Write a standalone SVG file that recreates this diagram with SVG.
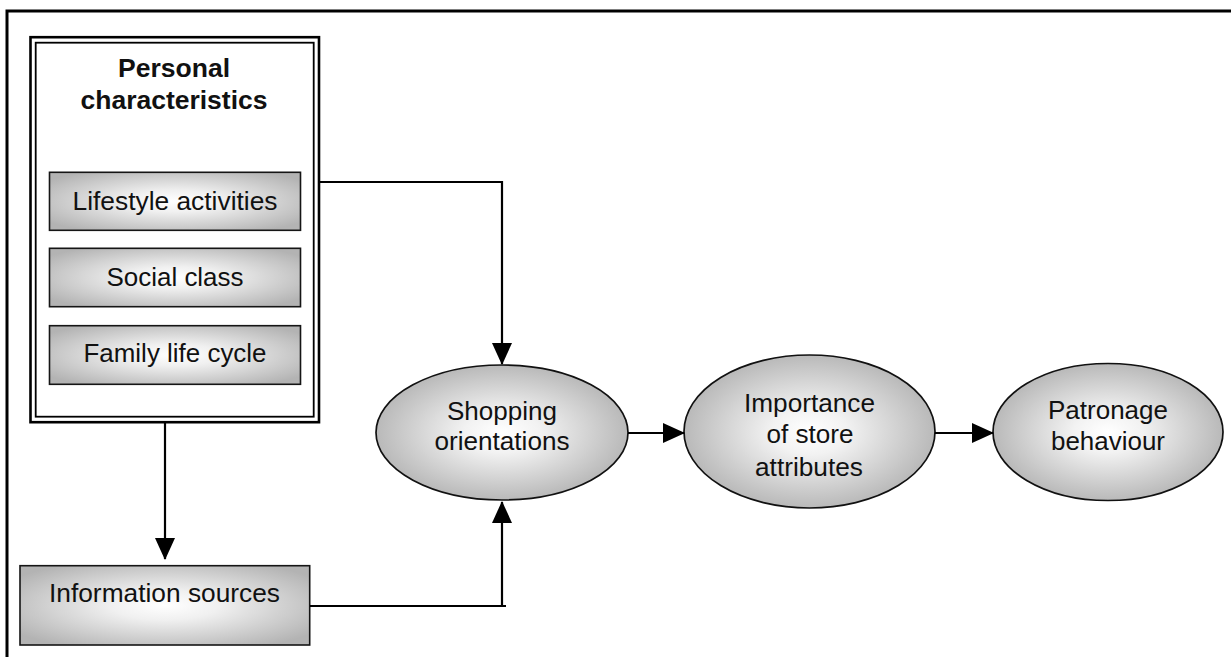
<svg xmlns="http://www.w3.org/2000/svg" width="1231" height="657" viewBox="0 0 1231 657">
<defs>
<radialGradient id="gEll" cx="0.5" cy="0.5" r="0.5">
<stop offset="0" stop-color="#ffffff"/>
<stop offset="0.3" stop-color="#f2f2f2"/>
<stop offset="1" stop-color="#b9b9b9"/>
</radialGradient>
<radialGradient id="gRect" cx="0.5" cy="0.5" r="0.62">
<stop offset="0" stop-color="#ffffff"/>
<stop offset="0.3" stop-color="#f0f0f0"/>
<stop offset="1" stop-color="#b3b3b3"/>
</radialGradient>
<marker id="arr" markerUnits="userSpaceOnUse" markerWidth="22" markerHeight="20" refX="21" refY="10" orient="auto" viewBox="0 0 22 20">
<path d="M0,0 L22,10 L0,20 Z" fill="#000"/>
</marker>
</defs>
<style>
.t{font-family:"Liberation Sans",Arial,sans-serif;font-size:25.5px;fill:#111;text-anchor:middle}
.b{font-weight:bold}
.box{fill:url(#gRect);stroke:#151515;stroke-width:1.6}
.ell{fill:url(#gEll);stroke:#111;stroke-width:1.7}
.con{fill:none;stroke:#000;stroke-width:2.2}
</style>
<rect width="1231" height="657" fill="#fff"/>
<g id="frame">
<path d="M7,657 V11 H1231" fill="none" stroke="#000" stroke-width="3"/>
</g>
<g id="personal-characteristics">
<rect x="30.5" y="37.2" width="288.5" height="385" fill="#fff" stroke="#000" stroke-width="2.6"/>
<rect x="35.7" y="42.7" width="278" height="374" fill="none" stroke="#000" stroke-width="1.8"/>
<text class="t b" x="174" y="77" textLength="112" lengthAdjust="spacingAndGlyphs">Personal</text>
<text class="t b" x="174" y="109" textLength="187" lengthAdjust="spacingAndGlyphs">characteristics</text>
</g>
<g id="lifestyle-activities">
<rect class="box" x="49.5" y="172.3" width="251" height="58"/>
<text class="t" x="175" y="209.5" textLength="205" lengthAdjust="spacingAndGlyphs">Lifestyle activities</text>
</g>
<g id="social-class">
<rect class="box" x="49.5" y="248.3" width="251" height="58.4"/>
<text class="t" x="175" y="285.7" textLength="137" lengthAdjust="spacingAndGlyphs">Social class</text>
</g>
<g id="family-life-cycle">
<rect class="box" x="49.5" y="325.7" width="251" height="58.6"/>
<text class="t" x="175" y="362" textLength="183" lengthAdjust="spacingAndGlyphs">Family life cycle</text>
</g>
<g id="information-sources">
<rect class="box" x="20" y="565.7" width="289.7" height="79.3"/>
<text class="t" x="164.5" y="602" textLength="231" lengthAdjust="spacingAndGlyphs">Information sources</text>
</g>
<g id="shopping-orientations">
<ellipse class="ell" cx="502" cy="432.5" rx="126" ry="67.5"/>
<text class="t" x="502" y="420" textLength="110" lengthAdjust="spacingAndGlyphs">Shopping</text>
<text class="t" x="502" y="450" textLength="135" lengthAdjust="spacingAndGlyphs">orientations</text>
</g>
<g id="importance-of-store-attributes">
<ellipse class="ell" cx="809.5" cy="431.5" rx="125.5" ry="76.5"/>
<text class="t" x="809.5" y="411.5" textLength="131" lengthAdjust="spacingAndGlyphs">Importance</text>
<text class="t" x="810" y="442.5" textLength="87" lengthAdjust="spacingAndGlyphs">of store</text>
<text class="t" x="809" y="475.5" textLength="108" lengthAdjust="spacingAndGlyphs">attributes</text>
</g>
<g id="patronage-behaviour">
<ellipse class="ell" cx="1108" cy="432" rx="115" ry="68.5"/>
<text class="t" x="1108" y="419" textLength="120" lengthAdjust="spacingAndGlyphs">Patronage</text>
<text class="t" x="1108" y="450" textLength="114" lengthAdjust="spacingAndGlyphs">behaviour</text>
</g>
<g id="connectors">
<path class="con" d="M320,182 H502 V364" marker-end="url(#arr)"/>
<path class="con" d="M165,423 V559" marker-end="url(#arr)"/>
<path class="con" d="M310,606 H506"/>
<path class="con" d="M502,607 V502" marker-end="url(#arr)"/>
<path class="con" d="M628,433 H684" marker-end="url(#arr)"/>
<path class="con" d="M935,433 H993" marker-end="url(#arr)"/>
</g>
</svg>
